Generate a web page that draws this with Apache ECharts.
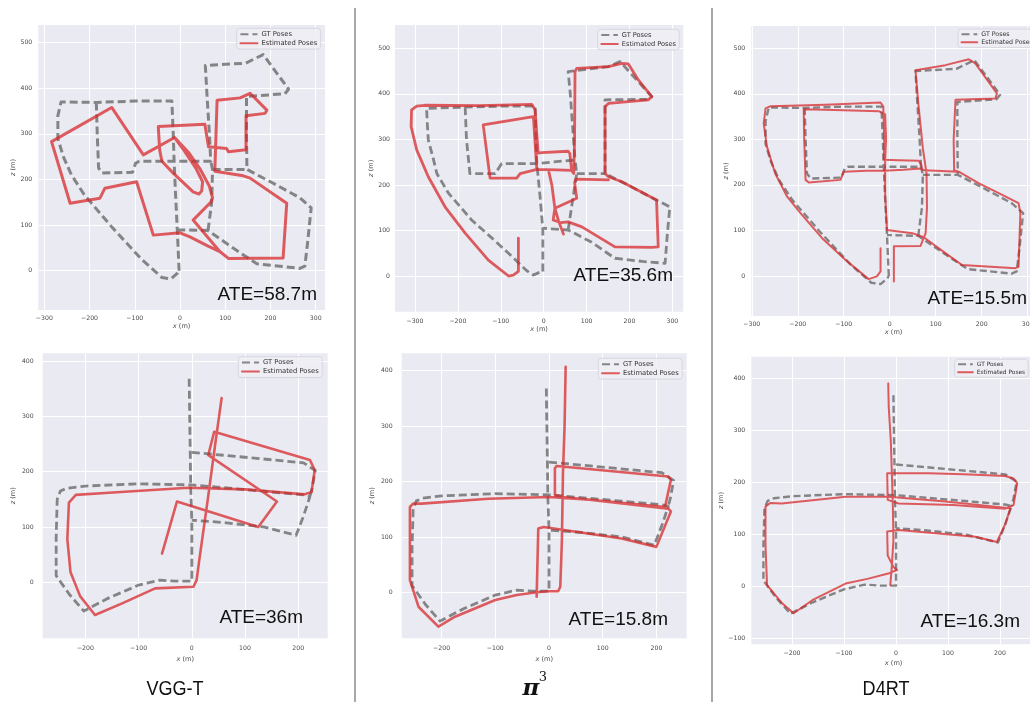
<!DOCTYPE html>
<html>
<head>
<meta charset="utf-8">
<script src="https://cdn.jsdelivr.net/npm/echarts@6/dist/echarts.min.js"></script>
<style>html,body{margin:0;padding:0;background:#fff}#c{width:1030px;height:702px}</style>
</head>
<body>
<div id="c"></div>
<script>
// ---------------- DATA (x, z in metres) ----------------
const methods = ['VGG-T', 'π³', 'D4RT'];
const ateTop = ['ATE=58.7m', 'ATE=35.6m', 'ATE=15.5m'];
const ateBottom = ['ATE=36m', 'ATE=15.8m', 'ATE=16.3m'];
const legendNames = ['GT Poses', 'Estimated Poses'];

const xTicksTop = [-300, -200, -100, 0, 100, 200, 300];
const yTicksTop = [0, 100, 200, 300, 400, 500];
const xTicksBottom = [-200, -100, 0, 100, 200];
const yTicksBottom = [0, 100, 200, 300, 400];
const yTicksBottomD4 = [-100, 0, 100, 200, 300, 400];

// Top row ground truth (VGG-T and D4RT panels)
const gtTop = [
  [[-2,0],[-4,45],[-6,90],[-10,170],[-13,240],[-15,300],[-18,372],[-100,372],[-185,369],[-263,370],[-270,340],[-270,290],[-258,250],[-240,210],[-212,167],[-150,95],[-85,25],[-40,-15],[-20,-18],[-5,-5],[-2,0]],
  [[-185,369],[-183,300],[-180,225],[-172,214],[-105,216],[-98,236],[-90,240],[-13,240],[68,240],[65,300],[60,380],[56,450],[145,455],[184,474],[240,398],[232,388],[147,382],[147,300],[148,222],[200,195],[265,160],[290,138],[282,60],[276,10],[265,5],[170,15],[120,48],[62,88],[-6,90]],
  [[62,88],[70,150],[72,222],[68,240]],
  [[72,222],[148,222]]
];
// Top row ground truth as plotted in the pi3 panel
const gtTopPi3 = [
  [[-2,10],[-2,101],[-8,170],[-16,247],[-18,300],[-20,373],[-100,373],[-183,371],[-273,368],[-271,330],[-269,299],[-258,260],[-249,225],[-222,182],[-168,123],[-125,87],[-82,50],[-40,12],[-24,2],[-10,8],[-2,10]],
  [[-183,371],[-180,300],[-172,225],[-113,225],[-98,247],[-16,247],[73,255],[68,320],[62,400],[57,449],[151,460],[178,471],[252,394],[244,388],[143,387],[143,300],[143,225],[200,198],[260,168],[294,152],[288,90],[283,28],[230,32],[166,39],[110,75],[57,101],[-2,105]],
  [[57,101],[68,170],[77,225],[73,255]],
  [[77,225],[143,225]]
];
const estVggTop = [
  [[-12,292],[-81,254],[-151,358],[-284,283],[-243,148],[-177,159],[-166,181],[-96,195],[-59,78],[0,83],[22,74],[60,55],[88,42],[107,27],[228,28],[236,148],[155,203],[140,208],[77,218],[82,374],[133,379],[155,389],[192,352],[188,345],[146,340],[146,265],[107,261],[103,268],[63,272],[55,321],[-48,316],[-45,265],[-40,240],[-15,214],[29,173],[42,168],[48,175],[50,195],[35,225],[10,262],[-12,292],[20,258],[45,222],[65,185],[72,160],[68,150],[29,111],[88,42]]
];
const estPi3Top = [
  [[-59,83],[-59,10],[-71,2],[-82,0],[-129,35],[-183,94],[-230,152],[-269,218],[-296,277],[-309,328],[-308,365],[-296,373],[-277,375],[-150,374],[-28,377],[-20,365],[-13,270],[-5,271],[57,274],[61,269],[65,232],[70,225],[72,300],[73,449],[77,456],[151,460],[182,467],[197,466],[221,430],[252,394],[244,387],[151,379],[143,372],[143,225],[151,218],[182,207],[263,167],[267,64],[252,63],[166,64],[89,108],[57,119],[40,117],[22,123],[26,149],[77,171],[72,205],[75,213],[151,211]],
  [[-16,234],[-20,236],[-24,350],[-141,332],[-125,215],[-63,215],[-55,225],[-16,234],[30,233],[65,232]],
  [[11,233],[19,200],[26,149],[35,120],[46,92]]
];
const estD4Top = [
  [[-20,61],[-20,10],[-28,-1],[-46,-7],[-96,35],[-147,83],[-194,138],[-223,174],[-249,225],[-267,284],[-274,335],[-270,368],[-259,373],[-140,376],[-20,381],[-14,372],[-12,300],[-13,255],[20,254],[63,253],[68,245],[70,236]],
  [[-10,255],[-8,300],[-10,355],[-24,362],[-100,364],[-187,366],[-186,300],[-183,211],[-176,205],[-107,211],[-100,229],[-50,231],[-13,231],[30,233],[67,236],[75,232],[150,229]],
  [[9,-12],[9,65],[67,66],[78,94],[81,150],[80,225],[72,280],[62,380],[56,452],[121,463],[172,476],[186,467],[233,401],[230,390],[143,387],[139,300],[140,232],[150,229],[193,204],[237,182],[280,160],[284,138],[280,20],[273,17],[157,24],[121,50],[74,85],[49,94],[-6,101],[-10,180],[-10,255]]
];

// Bottom row ground truth
const gtBottom = [
  [[-5,368],[-4,300],[-3,235],[-2,170],[0,112],[0,50],[0,2],[-30,2],[-60,4],[-100,-5],[-160,-30],[-203,-52],[-230,-22],[-255,12],[-255,80],[-253,150],[-247,165],[-235,170],[-200,174],[-100,178],[0,176],[95,168],[210,158],[222,155],[210,120],[196,85],[135,100],[60,108],[5,112],[0,112]],
  [[0,235],[100,226],[210,216],[232,202],[226,170],[222,155]]
];
const estVggBottom = [
  [[56,333],[44,250],[30,150],[14,40],[9,4],[3,-8],[-69,-11],[-131,-38],[-182,-59],[-210,-25],[-228,18],[-234,78],[-231,144],[-218,158],[-156,162],[-7,171],[100,168],[212,159],[225,163],[231,203],[222,221],[42,272],[31,230],[160,146],[125,100],[-28,146],[-56,52]]
];
const estPi3Bottom = [
  [[31,407],[29,300],[26,215],[24,94],[21,10],[17,2],[0,2],[-23,0],[-60,-5],[-100,-14],[-175,-44],[-206,-62],[-243,-26],[-259,22],[-259,154],[-253,160],[-237,160],[-113,169],[0,172],[75,167],[222,151],[227,146],[200,82],[135,97],[-10,118],[-20,115],[-23,-8]],
  [[11,176],[11,224],[14,228],[222,209],[227,203],[216,154],[150,160],[25,172],[11,176]]
];
const estD4Bottom = [
  [[-15,391],[-14,346],[-10,280],[-8,218],[-6,150],[-5,90],[-8,40],[-11,3]],
  [[-17,218],[-16,167],[5,160],[110,157],[210,150],[226,157],[233,199],[226,208],[210,213],[130,216],[63,218],[-17,218]],
  [[-17,106],[-16,60],[-5,38],[2,32],[-13,26],[-55,15],[-97,6],[-161,-26],[-197,-51],[-219,-32],[-248,3],[-251,80],[-251,154],[-242,161],[-220,160],[-97,173],[-14,173],[95,164],[200,153],[220,151],[210,120],[194,86],[152,96],[5,109],[-17,106]]
];

// ---------------- LAYOUT ----------------
const panels = [
  {gt: gtTop, est: estVggTop, ate: ateTop[0], grid:{left:38.3,top:25,width:286.7,height:285}, x:[-313.3,320.6], y:[-86.2,538.8], xt:xTicksTop, yt:yTicksTop,
   xm:5, ym:6, xn:13, yn:17, lw:3, gw:3, dash:[8,4], leg:{left:236.7,top:28.3,fs:6.8}, ateXY:[317,295]},
  {gt: gtTopPi3, est: estPi3Top, ate: ateTop[1], grid:{left:395,top:25,width:288.3,height:286.7}, x:[-346.6,325.4], y:[-78.4,551.3], xt:xTicksTop, yt:yTicksTop,
   xm:7, ym:5, xn:14, yn:15, lw:2.8, gw:2.8, dash:[8,4], leg:{left:597.7,top:29.3,fs:6.6}, ateXY:[673,276]},
  {gt: gtTop, est: estD4Top, ate: ateTop[2], grid:{left:751.3,top:26,width:284.7,height:290}, x:[-301,318], y:[-88,549], xt:xTicksTop, yt:yTicksTop,
   xm:5, ym:6, xn:13, yn:19, lw:2, gw:2.4, dash:[7,3.5], leg:{left:958,top:29,fs:6.3}, ateXY:[1027,299]},
  {gt: gtBottom, est: estVggBottom, ate: ateBottom[0], grid:{left:42.7,top:353.3,width:285,height:285}, x:[-280.3,255.4], y:[-101.2,413.9], xt:xTicksBottom, yt:yTicksBottom,
   xm:7, ym:9, xn:17, yn:26, lw:2.6, gw:2.8, dash:[8,4], leg:{left:238.3,top:356.7,fs:6.8}, ateXY:[303,618]},
  {gt: gtBottom, est: estPi3Bottom, ate: ateBottom[1], grid:{left:401.7,top:353.3,width:285,height:285}, x:[-274.3,256.4], y:[-83,431.4], xt:xTicksBottom, yt:yTicksBottom,
   xm:7, ym:9, xn:17, yn:26, lw:2.6, gw:2.8, dash:[8,4], leg:{left:598.3,top:358.3,fs:6.8}, ateXY:[668,620]},
  {gt: gtBottom, est: estD4Bottom, ate: ateBottom[2], grid:{left:751.3,top:356.7,width:284.7,height:287.6}, x:[-278.3,269.2], y:[-110.8,442.3], xt:xTicksBottom, yt:yTicksBottomD4,
   xm:6, ym:6, xn:15, yn:22, lw:2, gw:2.4, dash:[7,3.5], leg:{left:954.7,top:359.3,fs:5.9}, ateXY:[1020,622]}
];

const GT_COLOR = 'rgba(100,100,100,0.76)';
const EST_COLOR = 'rgba(214,39,40,0.74)';
const TICK_COLOR = '#4a4a4a';
const FONT = '"DejaVu Sans", sans-serif';

function flat(segs) {
  const out = [];
  segs.forEach((s, i) => { if (i) out.push(['-', '-']); s.forEach(p => out.push(p)); });
  return out;
}
const minus = v => (v < 0 ? '\u2212' + (-v) : String(v));

const grids = [], xAxes = [], yAxes = [], series = [], legends = [], graphics = [];
panels.forEach((p, i) => {
  grids.push(Object.assign({show:true, backgroundColor:'#EAEAF2', borderWidth:0, containLabel:false, outerBoundsMode:'none'}, p.grid));
  const nameStyle = {fontSize:6.6, color:TICK_COLOR, fontFamily:FONT, rich:{i:{fontStyle:'italic', fontSize:6.6, color:TICK_COLOR, fontFamily:FONT}}};
  xAxes.push({type:'value', gridIndex:i, min:p.x[0], max:p.x[1],
    axisLine:{show:false}, axisTick:{show:false, customValues:p.xt},
    axisLabel:{customValues:p.xt, fontSize:6.2, color:TICK_COLOR, fontFamily:FONT, margin:p.xm, formatter:minus, hideOverlap:false},
    splitLine:{show:true, lineStyle:{color:'#ffffff', width:1}},
    name:'{i|x} (m)', nameLocation:'middle', nameGap:p.xn, nameTextStyle:nameStyle});
  yAxes.push({type:'value', gridIndex:i, min:p.y[0], max:p.y[1],
    axisLine:{show:false}, axisTick:{show:false, customValues:p.yt},
    axisLabel:{customValues:p.yt, fontSize:6.2, color:TICK_COLOR, fontFamily:FONT, margin:p.ym, formatter:minus, hideOverlap:false},
    splitLine:{show:true, lineStyle:{color:'#ffffff', width:1}},
    name:'{i|z} (m)', nameLocation:'middle', nameGap:p.yn, nameTextStyle:nameStyle});
  series.push({name:legendNames[0], type:'line', xAxisIndex:i, yAxisIndex:i, data:flat(p.gt),
    symbol:'none', showSymbol:false, connectNulls:false, animation:false, silent:true, z:2,
    emphasis:{disabled:true}, itemStyle:{color:GT_COLOR},
    lineStyle:{color:GT_COLOR, width:p.gw, type:p.dash, cap:'butt', join:'round'}});
  series.push({name:legendNames[1], type:'line', xAxisIndex:i, yAxisIndex:i, data:flat(p.est),
    symbol:'none', showSymbol:false, connectNulls:false, animation:false, silent:true, z:3,
    emphasis:{disabled:true}, itemStyle:{color:EST_COLOR},
    lineStyle:{color:EST_COLOR, width:p.lw, type:'solid', cap:'round', join:'round'}});
  const fs = p.leg.fs;
  legends.push({left:p.leg.left, top:p.leg.top, orient:'vertical', align:'left',
    data:legendNames, itemWidth:fs*2.5, itemHeight:fs*1.2, itemGap:fs*0.3,
    padding:[fs*0.35, fs*0.5, fs*0.35, fs*0.4],
    itemStyle:{opacity:0},
    backgroundColor:'rgba(238,238,244,0.85)', borderColor:'#d2d2da', borderWidth:0.8, borderRadius:3,
    selectedMode:false, textStyle:{fontSize:fs, color:'#333', fontFamily:FONT, padding:[0,0,0,-1]}});
  graphics.push({type:'text', z:100, style:{text:p.ate, x:p.ateXY[0], y:p.ateXY[1], textAlign:'right', align:'right',
    textVerticalAlign:'middle', verticalAlign:'middle', font:'19px "Liberation Sans", Arial, sans-serif', fill:'#111'}});
});

// column dividers
[355, 712].forEach(x => graphics.push({type:'line', z:100, shape:{x1:x, y1:8, x2:x, y2:702}, style:{stroke:'#a8a8a8', lineWidth:2}}));
// column titles
const titleX = [175, 534, 886];
methods.forEach((m, i) => {
  if (m.indexOf('³') >= 0) {
    graphics.push({type:'text', z:100, style:{text:m.replace('³',''), x:titleX[i]-3, y:689, textAlign:'center', align:'center',
      textVerticalAlign:'middle', verticalAlign:'middle', font:'italic bold 23px "DejaVu Serif", "Liberation Serif", serif', fill:'#111'}});
    graphics.push({type:'text', z:100, style:{text:'3', x:titleX[i]+9, y:678, textAlign:'center', align:'center',
      textVerticalAlign:'middle', verticalAlign:'middle', font:'13px "DejaVu Serif", "Liberation Serif", serif', fill:'#111'}});
  } else {
    graphics.push({type:'text', z:100, x:titleX[i], y:689, scaleX:0.86, style:{text:m, x:0, y:0, textAlign:'center', align:'center',
      textVerticalAlign:'middle', verticalAlign:'middle', font:'21px "Liberation Sans", Arial, sans-serif', fill:'#111'}});
  }
});

const chart = echarts.init(document.getElementById('c'), null, {renderer:'canvas'});
chart.setOption({
  animation:false,
  backgroundColor:'#ffffff',
  grid:grids, xAxis:xAxes, yAxis:yAxes, series:series, legend:legends, graphic:graphics
});
</script>
</body>
</html>
